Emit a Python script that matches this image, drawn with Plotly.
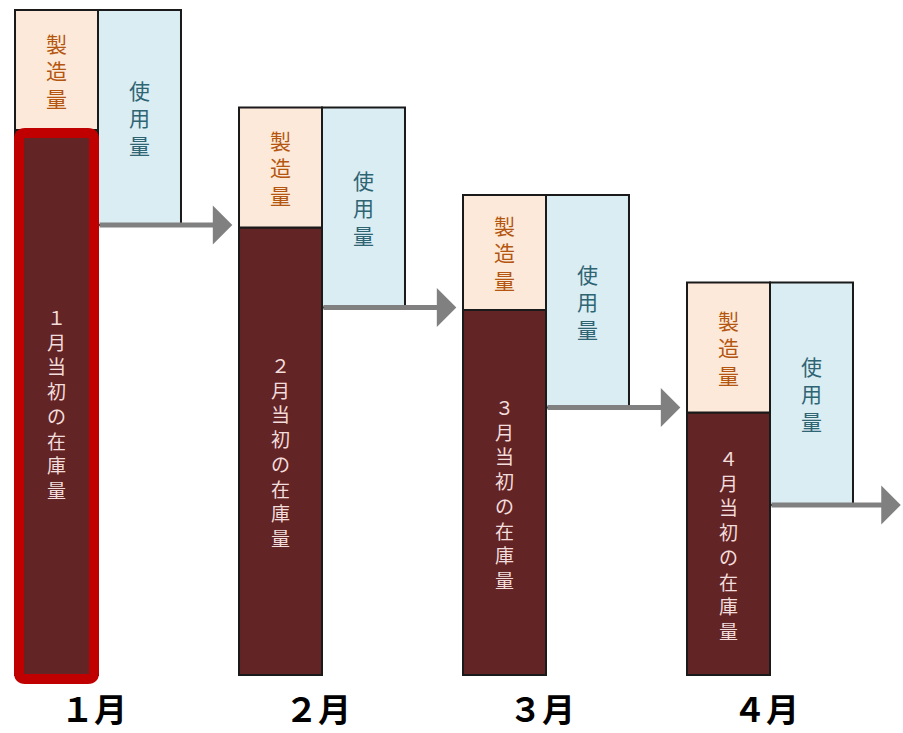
import plotly.graph_objects as go

months = ["１月", "２月", "３月", "４月"]
stock_labels = ["１月当初の在庫量", "２月当初の在庫量", "３月当初の在庫量", "４月当初の在庫量"]
stock = [109, 89.5, 73, 52.5]      # opening inventory
production = [24, 24, 23, 26]      # 製造量
usage = [43, 40, 42.5, 44.5]       # 使用量

BW = 0.3705
XMAX = 805 / 224
idx = list(range(len(months)))
top = [s + p for s, p in zip(stock, production)]
end = [t - u for t, u in zip(top, usage)]

C_STOCK = "#622424"
C_PROD = "#fde9da"
C_USE = "#daedf3"
EDGE = "#1a1a1a"
FONT = "Noto Sans CJK JP"

fig = go.Figure()
fig.add_bar(x=idx, y=stock, base=[0] * 4, width=BW, offset=-BW,
            marker=dict(color=C_STOCK, line=dict(color=EDGE, width=2)), hoverinfo="skip")
fig.add_bar(x=idx, y=production, base=stock, width=BW, offset=-BW,
            marker=dict(color=C_PROD, line=dict(color=EDGE, width=2)), hoverinfo="skip")
fig.add_bar(x=idx, y=usage, base=end, width=BW, offset=0,
            marker=dict(color=C_USE, line=dict(color=EDGE, width=2)), hoverinfo="skip")

ann = []

def vert(s, x, yc, color, size):
    ann.append(dict(x=x, y=yc, text="<br>".join(list(s)), showarrow=False,
                    font=dict(family=FONT, size=size, color=color)))

for i in idx:
    vert(stock_labels[i], i - BW / 2, stock[i] / 2, "#f2dcdc", 19)
    vert("製造量", i - BW / 2, stock[i] + production[i] / 2, "#b4560f", 21)
    vert("使用量", i + BW / 2, end[i] + usage[i] / 2, "#2f6473", 21)
    ann.append(dict(x=i - 0.02, y=-6.6, text=f"<b>{months[i]}</b>", showarrow=False,
                    font=dict(family=FONT, size=33, color="#000000")))
    tip = min(i + 1 - BW - 0.03, XMAX - 0.01)
    ann.append(dict(x=tip, y=end[i], ax=i, ay=end[i], xref="x", yref="y",
                    axref="x", ayref="y", text="", showarrow=True, arrowhead=1,
                    arrowsize=1.3, arrowwidth=5, arrowcolor="#808080", standoff=0))

# rounded red highlight around January's opening inventory
px_x, px_y = 1 / 224, 1 / 5
x0, x1 = -BW + 4 * px_x, -4 * px_x
y0, y1 = -0.8, stock[0] - 0.6
rx, ry = 6 * px_x, 6 * px_y
path = (f"M{x0 + rx},{y1} L{x1 - rx},{y1} Q{x1},{y1} {x1},{y1 - ry} "
        f"L{x1},{y0 + ry} Q{x1},{y0} {x1 - rx},{y0} L{x0 + rx},{y0} "
        f"Q{x0},{y0} {x0},{y0 + ry} L{x0},{y1 - ry} Q{x0},{y1} {x0 + rx},{y1} Z")
shapes = [dict(type="path", xref="x", yref="y", path=path,
               line=dict(color="#c00000", width=10), fillcolor="rgba(0,0,0,0)")]

fig.update_layout(
    width=903, height=733, margin=dict(l=0, r=0, t=0, b=0),
    paper_bgcolor="white", plot_bgcolor="white", showlegend=False,
    barmode="overlay", annotations=ann, shapes=shapes,
    xaxis=dict(range=[-98 / 224, XMAX], visible=False, fixedrange=True),
    yaxis=dict(range=[-11.6, 135], visible=False, fixedrange=True),
)
fig.write_html("out.html", config={"displayModeBar": False},
               post_script="document.body.style.margin='0';document.body.style.overflow='hidden';")
